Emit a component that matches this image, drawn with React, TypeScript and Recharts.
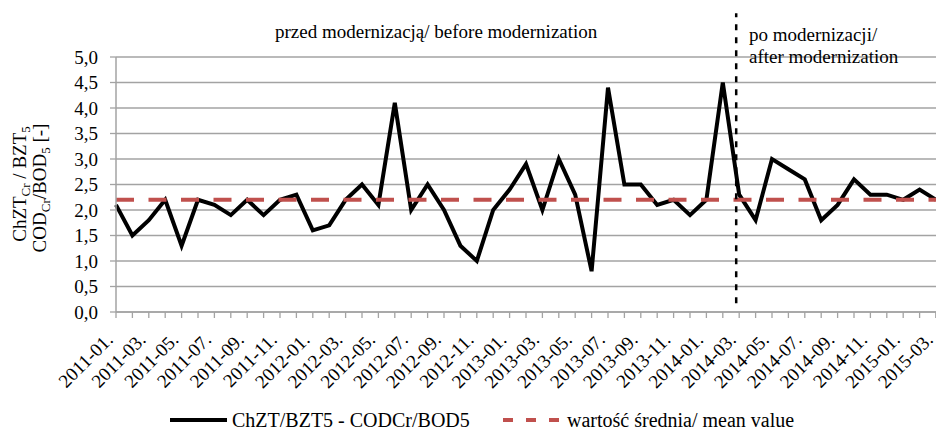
import React from 'react';
import { LineChart, Line, XAxis, YAxis, CartesianGrid, ReferenceLine } from 'recharts';

const months = [
  '2011-01.', '2011-02.', '2011-03.', '2011-04.', '2011-05.', '2011-06.', '2011-07.', '2011-08.', '2011-09.', '2011-10.', '2011-11.', '2011-12.',
  '2012-01.', '2012-02.', '2012-03.', '2012-04.', '2012-05.', '2012-06.', '2012-07.', '2012-08.', '2012-09.', '2012-10.', '2012-11.', '2012-12.',
  '2013-01.', '2013-02.', '2013-03.', '2013-04.', '2013-05.', '2013-06.', '2013-07.', '2013-08.', '2013-09.', '2013-10.', '2013-11.', '2013-12.',
  '2014-01.', '2014-02.', '2014-03.', '2014-04.', '2014-05.', '2014-06.', '2014-07.', '2014-08.', '2014-09.', '2014-10.', '2014-11.', '2014-12.',
  '2015-01.', '2015-02.', '2015-03.',
];

const ratio = [
  2.1, 1.5, 1.8, 2.2, 1.3, 2.2, 2.1, 1.9, 2.2, 1.9, 2.2, 2.3,
  1.6, 1.7, 2.2, 2.5, 2.1, 4.1, 2.0, 2.5, 2.0, 1.3, 1.0, 2.0,
  2.4, 2.9, 2.0, 3.0, 2.3, 0.8, 4.4, 2.5, 2.5, 2.1, 2.2, 1.9,
  2.2, 4.5, 2.3, 1.8, 3.0, 2.8, 2.6, 1.8, 2.1, 2.6, 2.3, 2.3,
  2.2, 2.4, 2.2,
];

const meanValue = 2.2;
const modernizationMonth = '2014-03.';
const yTicks = [0, 0.5, 1, 1.5, 2, 2.5, 3, 3.5, 4, 4.5, 5];

const data = months.map((m, i) => ({ month: m, ratio: ratio[i] }));

const FONT = '"Liberation Serif", "Times New Roman", serif';
const GRID = '#a3a3a3';
const RED = '#c0504d';

const XTick = (props: any) => {
  const { x, y, payload } = props;
  const idx = payload?.index ?? props.index;
  const half = payload?.offset ?? 8;
  const tx = x - 2;
  const ty = y + 29;
  return (
    <g>
      <line x1={x - half} y1={y} x2={x - half} y2={y + 6} stroke={GRID} strokeWidth={1.3} />
      {idx === months.length - 1 && (
        <line x1={x + half} y1={y} x2={x + half} y2={y + 6} stroke={GRID} strokeWidth={1.3} />
      )}
      {idx % 2 === 0 && (
        <text
          x={tx}
          y={ty}
          textAnchor="end"
          transform={`rotate(-45, ${tx}, ${ty})`}
          fontFamily={FONT}
          fontSize={19}
          fill="#000"
        >
          {payload.value}
        </text>
      )}
    </g>
  );
};

const YLabel = () => (
  <g fontFamily={FONT} fontSize={19} fill="#000">
    <text x={26} y={184} textAnchor="middle" transform="rotate(-90, 26, 184)">
      ChZT
      <tspan fontSize={13} dy={4}>Cr</tspan>
      <tspan dy={-4}> / BZT</tspan>
      <tspan fontSize={13} dy={4}>5</tspan>
    </text>
    <text x={46} y={188} textAnchor="middle" transform="rotate(-90, 46, 188)">
      COD
      <tspan fontSize={13} dy={4}>Cr</tspan>
      <tspan dy={-4}>/BOD</tspan>
      <tspan fontSize={13} dy={4}>5</tspan>
      <tspan dy={-4}> [-]</tspan>
    </text>
  </g>
);

const Notes = () => (
  <g fontFamily={FONT} fontSize={19} fill="#000">
    <text x={275} y={38}>przed modernizacją/ before modernization</text>
    <text x={749} y={41}>po modernizacji/</text>
    <text x={749} y={63}>after modernization</text>
  </g>
);

// the divider in the source sits a little left of the band centre
const Divider = (p: any) => (
  <line
    x1={p.x1 - 3}
    y1={p.y1}
    x2={p.x2 - 3}
    y2={p.y2}
    stroke="#000"
    strokeWidth={2.5}
    strokeDasharray="6 7"
  />
);

export default function App() {
  return (
    <div style={{ position: 'absolute', left: 0, top: 0, width: 936, height: 430, background: '#fff' }}>
      <LineChart width={936} height={430} data={data} margin={{ top: 57, right: 0, bottom: 0, left: 0 }}>
        <CartesianGrid vertical={false} stroke={GRID} strokeWidth={1.3} />
        <XAxis
          dataKey="month"
          type="category"
          interval={0}
          height={118}
          tickSize={0}
          tickMargin={0}
          tickLine={false}
          axisLine={{ stroke: GRID, strokeWidth: 1.5 }}
          tick={<XTick />}
        />
        <YAxis
          width={116}
          domain={[0, 5]}
          ticks={yTicks}
          interval={0}
          tickSize={6}
          tickMargin={12}
          axisLine={{ stroke: GRID, strokeWidth: 1.5 }}
          tickLine={{ stroke: GRID, strokeWidth: 1.3 }}
          tickFormatter={(v: number) => v.toFixed(1).replace('.', ',')}
          tick={{ fill: '#000', fontSize: 19, fontFamily: FONT }}
          label={<YLabel />}
        />
        <Line
          type="linear"
          dataKey="ratio"
          stroke="#000"
          strokeWidth={4}
          dot={false}
          activeDot={false}
          isAnimationActive={false}
        />
        <ReferenceLine
          segment={[{ x: months[0], y: meanValue }, { x: months[months.length - 1], y: meanValue }]}
          stroke={RED}
          strokeWidth={4}
          strokeDasharray="18 14.5"
        />
        <ReferenceLine
          segment={[{ x: modernizationMonth, y: 0.17 }, { x: modernizationMonth, y: 5.86 }]}
          ifOverflow="visible"
          shape={Divider}
          label={<Notes />}
        />
      </LineChart>
      <div style={{ position: 'absolute', left: 0, top: 0, width: 936, height: 430, pointerEvents: 'none' }}>
        <svg width={936} height={430} style={{ position: 'absolute', left: 0, top: 0 }}>
          <line x1={170} y1={420} x2={227} y2={420} stroke="#000" strokeWidth={4} />
          <text x={232} y={427} fontFamily={FONT} fontSize={20} fill="#000">ChZT/BZT5 - CODCr/BOD5</text>
          <line x1={503} y1={420} x2={560} y2={420} stroke={RED} strokeWidth={4} strokeDasharray="10 13" />
          <text x={567} y={427} fontFamily={FONT} fontSize={20} fill="#000">wartość średnia/ mean value</text>
        </svg>
      </div>
    </div>
  );
}
